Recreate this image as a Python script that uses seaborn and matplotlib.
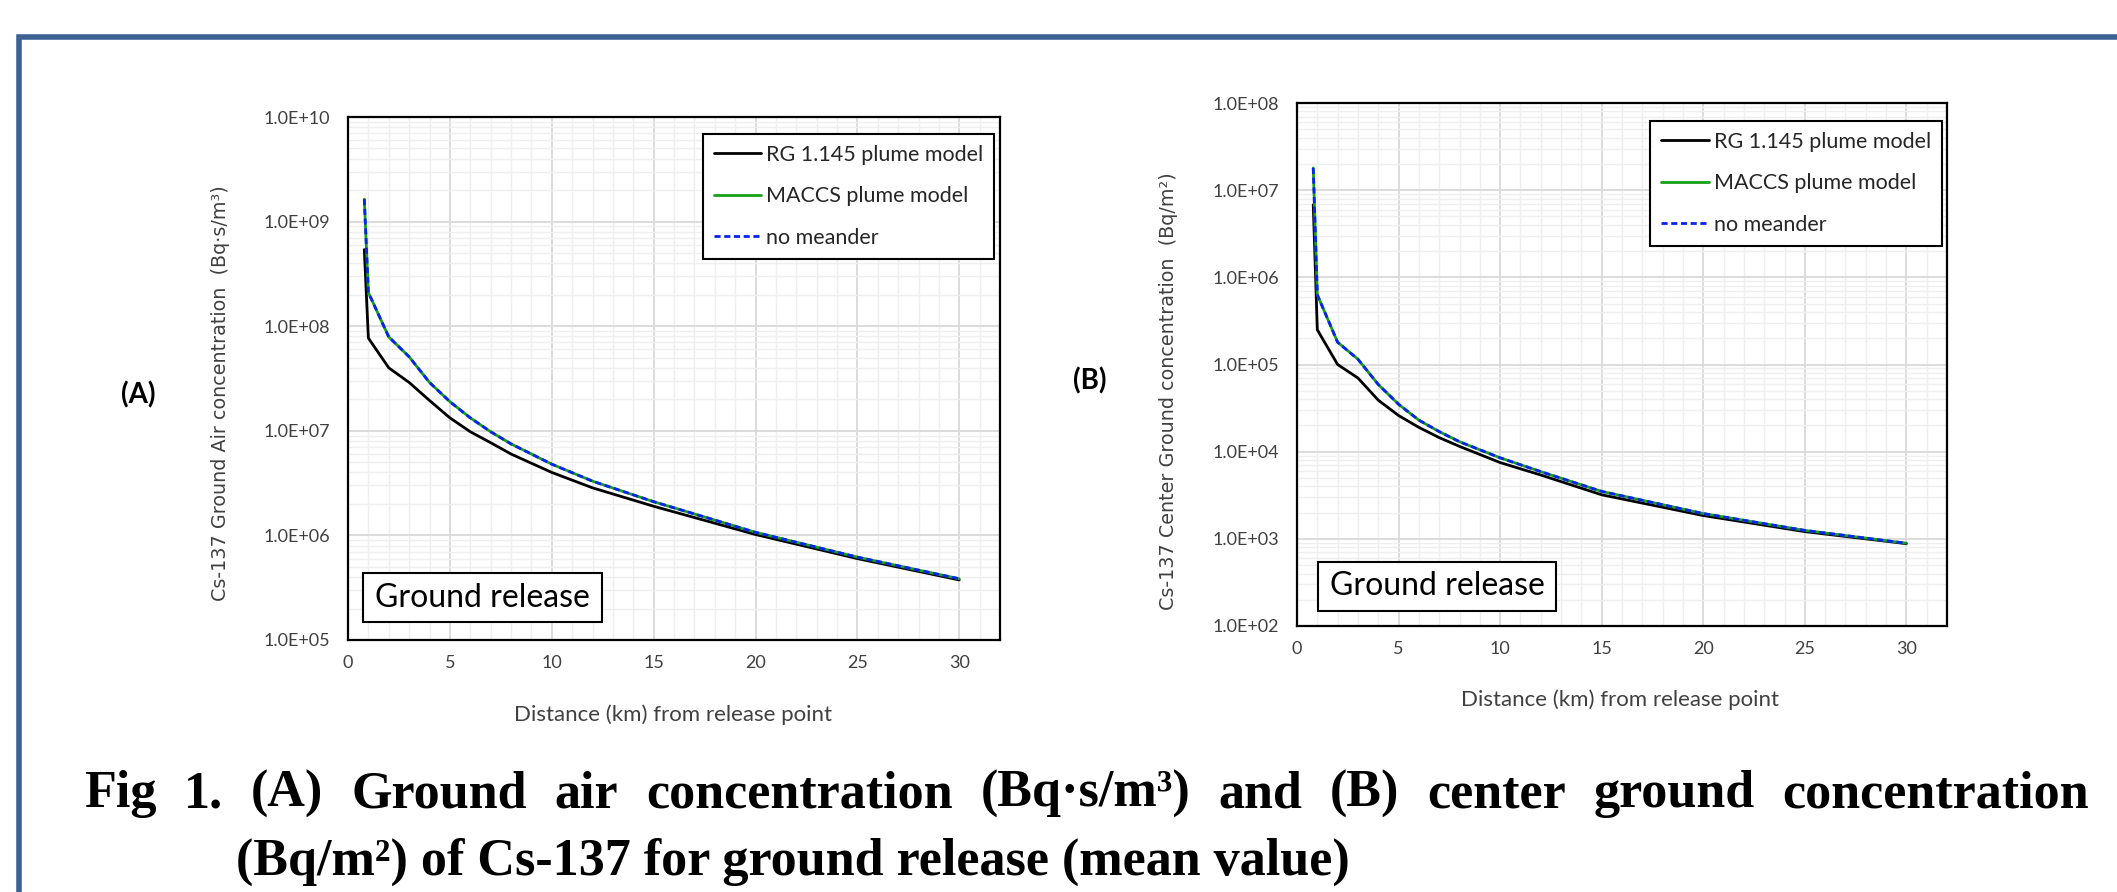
import numpy as np
import pandas as pd
import matplotlib
matplotlib.use("Agg")
import matplotlib.pyplot as plt
import matplotlib.ticker as mticker
from matplotlib.patches import Rectangle
import seaborn as sns

# distance from release point (km)
distance_km = [0.8, 1.0, 2, 3, 4, 5, 6, 7, 8, 10, 12, 15, 20, 25, 30]

# (A) ground air concentration, Bq.s/m3
air_rg = [5.4e8, 7.7e7, 4.0e7, 2.9e7, 1.95e7, 1.33e7, 9.8e6, 7.7e6, 6.0e6,
          4.0e6, 2.85e6, 1.9e6, 1.02e6, 6.0e5, 3.75e5]
air_maccs = [1.64e9, 2.1e8, 7.9e7, 5.1e7, 2.9e7, 1.9e7, 1.33e7, 9.8e6, 7.5e6,
             4.8e6, 3.3e6, 2.1e6, 1.07e6, 6.2e5, 3.85e5]
air_no_meander = [1.64e9, 2.1e8, 7.9e7, 5.1e7, 2.9e7, 1.9e7, 1.33e7, 9.8e6, 7.5e6,
                  4.8e6, 3.3e6, 2.1e6, 1.07e6, 6.2e5, 3.85e5]

# (B) center ground concentration, Bq/m2
gnd_rg = [6.8e6, 2.5e5, 1.0e5, 7.0e4, 3.9e4, 2.6e4, 1.9e4, 1.45e4, 1.15e4,
          7.5e3, 5.4e3, 3.2e3, 1.85e3, 1.21e3, 8.8e2]
gnd_maccs = [1.8e7, 6.3e5, 1.8e5, 1.15e5, 5.9e4, 3.5e4, 2.3e4, 1.7e4, 1.3e4,
             8.5e3, 5.9e3, 3.5e3, 1.95e3, 1.25e3, 8.9e2]
gnd_no_meander = [1.8e7, 6.3e5, 1.8e5, 1.15e5, 5.9e4, 3.5e4, 2.3e4, 1.7e4, 1.3e4,
                  8.5e3, 5.9e3, 3.5e3, 1.95e3, 1.25e3, 8.9e2]

models = ["RG 1.145 plume model", "MACCS plume model", "no meander"]
x_ticks = [0, 5, 10, 15, 20, 25, 30]

caption_1 = "Fig 1. (A) Ground air concentration (Bq·s/m³) and (B) center ground concentration"
caption_2 = "(Bq/m²) of Cs-137 for ground release (mean value)"

palette = {models[0]: "#000000", models[1]: "#16a016", models[2]: "#0a22f0"}
dash_map = {models[0]: "", models[1]: "", models[2]: (2.2, 1.3)}

sns.set_style("white")
plt.rcParams["font.family"] = ["Lato", "DejaVu Sans"]

W, H = 2117, 892
fig = plt.figure(figsize=(W / 100, H / 100), dpi=100)


def px_box(left, top, right, bottom):
    return [left / W, 1 - bottom / H, (right - left) / W, (bottom - top) / H]


def draw_panel(ax, rg, maccs, nomeander, ymin, ymax, leg_anchor, box):
    df = pd.DataFrame({
        "distance": distance_km * 3,
        "conc": rg + maccs + nomeander,
        "model": [m for m in models for _ in distance_km],
    })
    sns.lineplot(data=df, x="distance", y="conc", hue="model", style="model",
                 hue_order=models, style_order=models, palette=palette,
                 dashes=dash_map, linewidth=2.0, legend=False, sort=False,
                 errorbar=None, ax=ax)
    ax.set_yscale("log")
    ax.set_ylim(ymin, ymax)
    ax.set_xlim(0, 32)
    ax.set_xticks(x_ticks)
    ax.xaxis.set_minor_locator(mticker.MultipleLocator(1))
    ax.yaxis.set_major_locator(mticker.LogLocator(base=10, numticks=20))
    ax.yaxis.set_minor_locator(mticker.LogLocator(base=10, subs=np.arange(2, 10), numticks=20))
    ax.yaxis.set_major_formatter(mticker.FuncFormatter(lambda v, p: f"{v:.1E}"))
    ax.yaxis.set_minor_formatter(mticker.NullFormatter())
    ax.set_xlabel("")
    ax.set_ylabel("")

    ax.set_axisbelow(True)
    ax.grid(which="major", color="#d9d9d9", linewidth=1.3)
    ax.grid(which="minor", color="#efefef", linewidth=1.0)
    for s in ax.spines.values():
        s.set_color("black")
        s.set_linewidth(1.6)

    ax.tick_params(axis="both", which="major", direction="out", length=5,
                   width=1.3, color="black", labelsize=13, labelcolor="#404040")
    ax.tick_params(axis="y", which="major", pad=8)
    ax.tick_params(axis="x", which="major", pad=6)
    ax.tick_params(which="minor", length=0)

    leg = ax.legend(handles=ax.lines[:3], labels=models, loc="upper right",
                    bbox_to_anchor=leg_anchor, frameon=True, fancybox=False,
                    edgecolor="black", framealpha=1, fontsize=15.5,
                    handlelength=2.2, handletextpad=0.25, labelspacing=1.0,
                    borderpad=0.5, borderaxespad=0)
    leg.get_frame().set_linewidth(1.5)

    # "Ground release" box
    x0, x1, y0, y1 = box
    ax.add_patch(Rectangle((x0, y0), x1 - x0, y1 - y0, transform=ax.transAxes,
                           facecolor="white", edgecolor="black", linewidth=1.5,
                           zorder=5))
    ax.text((x0 + x1) / 2, (y0 + y1) / 2, "Ground release", transform=ax.transAxes,
            ha="center", va="center", fontsize=23, color="black", zorder=6)


ax_a = fig.add_axes(px_box(348, 117, 1000, 640))
draw_panel(ax_a, air_rg, air_maccs, air_no_meander, 1e5, 1e10,
           (0.991, 0.9675), (0.0230, 0.3896, 0.0344, 0.1281))

ax_b = fig.add_axes(px_box(1297, 103, 1947, 626))
draw_panel(ax_b, gnd_rg, gnd_maccs, gnd_no_meander, 1e2, 1e8,
           (0.992, 0.9656), (0.0323, 0.3985, 0.0287, 0.1224))

# axis titles
fig.text(220 / W, 1 - 393 / H, "Cs-137 Ground Air concentration  (Bq·s/m³)",
         rotation=90, ha="center", va="center", fontsize=13.8,
         color="#404040", family="DejaVu Sans")
fig.text(1168 / W, 1 - 391 / H, "Cs-137 Center Ground concentration  (Bq/m²)",
         rotation=90, ha="center", va="center", fontsize=13.8,
         color="#404040", family="DejaVu Sans")
fig.text(673 / W, 1 - 715 / H, "Distance (km) from release point",
         ha="center", va="center", fontsize=16, color="#404040")
fig.text(1620 / W, 1 - 700 / H, "Distance (km) from release point",
         ha="center", va="center", fontsize=16, color="#404040")

# panel tags
fig.text(138 / W, 1 - 395 / H, "(A)", ha="center", va="center",
         fontsize=20, fontweight="bold", color="black")
fig.text(1090 / W, 1 - 381 / H, "(B)", ha="center", va="center",
         fontsize=20, fontweight="bold", color="black")

# caption: first line justified between x=84 and x=2089
cap_style = dict(ha="left", va="baseline", fontsize=37.5, fontweight="bold",
                 family="Liberation Serif", color="black")
words = caption_1.split(" ")
word_texts = [fig.text(0, 1 - 807 / H, w, **cap_style) for w in words]
renderer = fig.canvas.get_renderer()
widths = [t.get_window_extent(renderer).width for t in word_texts]
gap = (2089 - 84 - sum(widths)) / (len(words) - 1)
xpos = 84
for t, w in zip(word_texts, widths):
    t.set_x(xpos / W)
    xpos += w + gap
fig.text(236 / W, 1 - 875 / H, caption_2, **cap_style)

# blue frame around the figure (cut at right and bottom edges)
fig.add_artist(Rectangle((18.5 / W, -0.2), 1.2, 1.2 - 36.5 / H,
                         transform=fig.transFigure, fill=False,
                         edgecolor="#3d6192", linewidth=4.0))

fig.savefig("out.png", dpi=100, facecolor="white")
